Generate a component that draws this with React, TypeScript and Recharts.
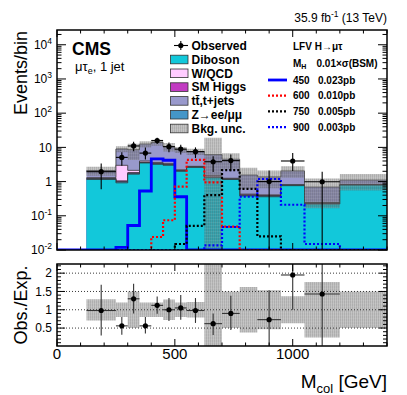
import React from 'react';
import { ComposedChart, Area, Line, Scatter, XAxis, YAxis, ErrorBar, ReferenceLine } from 'recharts';

const FONT = '"Liberation Sans", Arial, Helvetica, sans-serif';

// M_col bin edges (GeV) of the background histograms
const binEdges = [125, 250, 300, 350, 400, 450, 500, 550, 625, 700, 775, 850, 950, 1050, 1200, 1400];

// stacked backgrounds, events / bin
const diboson = [1.15, 0.92, 1.65, 3.5, 3.2, 3.0, 2.0, 2.6, 1.3, 1.15, 0.38, 0.36, 0.76, 0.22, 0.79];
const zll = [0.08, 0.08, 0.1, 0.1, 0.1, 0.08, 0.06, 0.05, 0.04, 0.03, 0.02, 0.02, 0.02, 0.01, 0.01];
const smHiggs = [0.02, 0.05, 0.08, 0.1, 0.1, 0.08, 0.05, 0.04, 0.03, 0.02, 0.01, 0.01, 0.01, 0.005, 0.005];
const wQcd = [0.05, 1.94, 0.3, 0.3, 0.2, 0.2, 0.1, 0.1, 0.15, 0.05, 0.02, 0.02, 0.02, 0.01, 0.01];
const ttbar = [0.8, 6.0, 6.4, 8.5, 10.4, 7.1, 6.3, 4.8, 4.6, 3.25, 1.13, 0.96, 1.24, 0.45, 0.29];
const bkgRelUnc = [0.29, 0.2, 0.5, 0.2, 0.2, 0.28, 0.2, 0.21, 2.1, 0.5, 0.62, 0.53, 0.37, 0.76, 0.5];

// data
const observed = [1.95, 5.1, 11, 6.8, 15.8, 10.5, 8.9, 7.5, 3.8, 4.1, null, 1.0, 4.0, 0.99, null];
const observedLow = [0.6, 2.9, 7.7, 4.4, 12.5, 7.2, 6.2, 4.9, 1.9, 2.0, null, 0.01, 2.05, 0.01, null];
const observedHigh = [3.4, 7.2, 14.5, 10, 19, 13.9, 11.9, 10, 5.5, 6.2, null, 2.1, 6.9, 1.95, null];

// obs / exp
const ratio = [0.98, 0.56, 1.3, 0.56, 1.12, 1.0, 1.05, 0.98, 0.62, 0.9, null, 0.73, 1.95, 1.43, null];
const ratioLow = [0.3, 0.32, 0.9, 0.35, 0.89, 0.69, 0.73, 0.64, 0.31, 0.45, null, 0.02, 1.0, 0.02, null];
const ratioHigh = [1.68, 0.8, 1.71, 0.8, 1.36, 1.32, 1.4, 1.32, 0.9, 1.38, null, 1.53, 2.25, 2.25, null];

// LFV H->mu tau signals, bins start at 0 GeV
const sigEdges = [0, 125, 250, 300, 350, 400, 450, 500, 550, 625, 700, 775, 850, 950, 1050, 1200, 1400];
const sig450 = [0.01, 0.01, 0.012, 0.052, 0.53, 4.6, 4.2, 0.36, 0.01, 0.01, 0.01, 0.01, 0.01, 0.01, 0.01, 0.01];
const sig600 = [0.01, 0.01, 0.01, 0.01, 0.01, 0.024, 0.074, 0.71, 4.3, 0.95, 0.048, 0.01, 0.01, 0.01, 0.01, 0.01];
const sig750 = [0.01, 0.01, 0.01, 0.01, 0.01, 0.01, 0.01, 0.015, 0.051, 0.4, 2.15, 0.61, 0.025, 0.01, 0.01, 0.01];
const sig900 = [0.01, 0.01, 0.01, 0.01, 0.01, 0.01, 0.01, 0.01, 0.01, 0.0136, 0.047, 0.36, 1.19, 0.21, 0.015, 0.01];

const C_DIBOSON = '#12c8da';
const C_WQCD = '#ffccff';
const C_HIGGS = '#c23bc2';
const C_TT = '#9999cc';
const C_ZLL = '#4496c8';

const PLOT_W = 330;
const MAIN_H = 220;
const RATIO_H = 82;
const Y_MIN = 0.01;
const Y_MAX = 27000;
const R_MIN = 0.01;
const R_MAX = 2.25;

const stepRows = (edges: number[], vals: number[]) =>
  edges.map((x, i) => ({ x, v: vals[Math.min(i, vals.length - 1)] }));

const sumArr = (...arrs: number[][]) => arrs[0].map((_, i) => arrs.reduce((s, a) => s + a[i], 0));

const cum1 = sumArr(diboson);
const cum2 = sumArr(diboson, zll);
const cum3 = sumArr(diboson, zll, smHiggs);
const cum4 = sumArr(diboson, zll, smHiggs, wQcd);
const total = sumArr(diboson, zll, smHiggs, wQcd, ttbar);

const bandRows = binEdges.map((x, i) => {
  const k = Math.min(i, total.length - 1);
  return { x, band: [Math.max(total[k] * (1 - bkgRelUnc[k]), Y_MIN), total[k] * (1 + bkgRelUnc[k])] };
});
const ratioBandRows = binEdges.map((x, i) => {
  const k = Math.min(i, total.length - 1);
  return { x, band: [Math.max(1 - bkgRelUnc[k], R_MIN), Math.min(1 + bkgRelUnc[k], R_MAX)] };
});

const pointRows = (vals: (number | null)[], lo: (number | null)[], hi: (number | null)[]) =>
  vals
    .map((v, i) => ({ v, i }))
    .filter((d) => d.v !== null)
    .map(({ v, i }) => ({
      x: (binEdges[i] + binEdges[i + 1]) / 2,
      y: v as number,
      ex: (binEdges[i + 1] - binEdges[i]) / 2,
      ey: [(v as number) - (lo[i] as number), (hi[i] as number) - (v as number)],
    }));

const obsPoints = pointRows(observed, observedLow, observedHigh);
const ratioPoints = pointRows(ratio, ratioLow, ratioHigh);

const logTicks: number[] = [];
for (let e = -2; e <= 4; e++) {
  for (let m = 1; m <= 9; m++) {
    const v = Number((m * Math.pow(10, e)).toPrecision(3));
    if (v <= Y_MAX) logTicks.push(v);
  }
}
const xTicks = Array.from({ length: 15 }, (_, i) => i * 100);
const ratioTicks = Array.from({ length: 22 }, (_, i) => Math.round((i + 1) * 10) / 100);

const MainYTick = (props: any) => {
  const { x, y, payload } = props;
  const v = payload.value;
  const e = Math.round(Math.log10(v));
  const major = Math.abs(v / Math.pow(10, e) - 1) < 1e-6;
  const len = major ? 9 : 4.5;
  return (
    <g>
      <line x1={x} x2={x + len} y1={y} y2={y} stroke="#000" />
      <line x1={x + PLOT_W} x2={x + PLOT_W - len} y1={y} y2={y} stroke="#000" />
      {major && (
        <text x={x - 5} y={y + 4.3} textAnchor="end" fontSize={12} fontFamily={FONT} fill="#000">
          {e === 0 ? '1' : '10'}
          {e !== 0 && e !== 1 && (
            <tspan dy={-5} fontSize={8.5}>
              {e}
            </tspan>
          )}
        </text>
      )}
    </g>
  );
};

const makeXTick = (plotH: number, labels: boolean) => (props: any) => {
  const { x, y, payload } = props;
  const major = payload.value % 500 === 0;
  const len = major ? 7 : 3.5;
  return (
    <g>
      <line x1={x} x2={x} y1={y} y2={y - len} stroke="#000" />
      <line x1={x} x2={x} y1={y - plotH} y2={y - plotH + len} stroke="#000" />
      {labels && major && (
        <text x={x} y={y + 12.5} textAnchor="middle" fontSize={15} fontFamily={FONT} fill="#000">
          {payload.value}
        </text>
      )}
    </g>
  );
};
const MainXTick = makeXTick(MAIN_H, false);
const RatioXTick = makeXTick(RATIO_H, true);

const RatioYTick = (props: any) => {
  const { x, y, payload } = props;
  const v = payload.value;
  const major = Math.abs(v * 2 - Math.round(v * 2)) < 1e-6;
  const len = major ? 8 : 4;
  return (
    <g>
      <line x1={x} x2={x + len} y1={y} y2={y} stroke="#000" />
      <line x1={x + PLOT_W} x2={x + PLOT_W - len} y1={y} y2={y} stroke="#000" />
      {major && (
        <text x={x - 5} y={y + 4.3} textAnchor="end" fontSize={12} fontFamily={FONT} fill="#000">
          {v}
        </text>
      )}
    </g>
  );
};

const dot = (p: any) => <circle cx={p.cx} cy={p.cy} r={2.6} fill="#000" />;

const stackLayer = (rows: any[], fill: string) => (
  <Area
    data={rows}
    dataKey="v"
    type="stepAfter"
    baseValue={Y_MIN}
    fill={fill}
    fillOpacity={1}
    stroke="#333"
    strokeWidth={0.8}
    isAnimationActive={false}
  />
);

const sigLine = (vals: number[], color: string, dash?: string) => (
  <Line
    data={stepRows(sigEdges, vals)}
    dataKey="v"
    type="stepAfter"
    stroke={color}
    strokeWidth={dash ? 2.2 : 2.8}
    strokeDasharray={dash}
    dot={false}
    isAnimationActive={false}
  />
);

const legendRows = [
  { name: 'Diboson', fill: C_DIBOSON },
  { name: 'W/QCD', fill: C_WQCD },
  { name: 'SM Higgs', fill: C_HIGGS },
  { name: 'tt\u0304,t+jets', fill: C_TT },
  { name: 'Z\u2192ee/\u03bc\u03bc', fill: C_ZLL },
  { name: 'Bkg. unc.', fill: 'url(#hatch)' },
];
const signalLegend = [
  { mass: '450', xs: '0.023pb', color: '#0000ff', dash: undefined },
  { mass: '600', xs: '0.010pb', color: '#ff0000', dash: '2 2' },
  { mass: '750', xs: '0.005pb', color: '#000000', dash: '2 2' },
  { mass: '900', xs: '0.003pb', color: '#0000ff', dash: '2 2' },
];

export default function App() {
  const abs: React.CSSProperties = { position: 'absolute', left: 0, top: 0 };
  return (
    <div style={{ position: 'absolute', left: 0, top: 0, width: 407, height: 395, background: '#fff' }}>
      <svg width={0} height={0} style={{ position: 'absolute' }}>
        <defs>
          <pattern id="hatch" width={2} height={3} patternUnits="userSpaceOnUse">
            <rect width={2} height={3} fill="rgba(110,110,110,0.42)" />
            <rect width={1} height={3} fill="rgba(70,70,70,0.16)" />
            <rect width={2} height={1} fill="rgba(255,255,255,0.08)" />
          </pattern>
        </defs>
      </svg>

      <div style={abs}>
        <ComposedChart width={407} height={395} margin={{ top: 30, right: 20, bottom: 144, left: 0 }}>
          {stackLayer(stepRows(binEdges, total), C_TT)}
          {stackLayer(stepRows(binEdges, cum4), C_WQCD)}
          {stackLayer(stepRows(binEdges, cum3), C_HIGGS)}
          {stackLayer(stepRows(binEdges, cum2), C_ZLL)}
          {stackLayer(stepRows(binEdges, cum1), C_DIBOSON)}
          <Area
            data={bandRows}
            dataKey="band"
            type="stepAfter"
            fill="url(#hatch)"
            fillOpacity={1}
            stroke="none"
            isAnimationActive={false}
          />
          {sigLine(sig450, '#0000ff')}
          {sigLine(sig600, '#ff0000', '2 2')}
          {sigLine(sig750, '#000000', '2 2')}
          {sigLine(sig900, '#0000ff', '2 2')}
          <Scatter data={obsPoints} dataKey="y" shape={dot} isAnimationActive={false}>
            <ErrorBar dataKey="ey" direction="y" width={0} stroke="#000" strokeWidth={1.1} />
            <ErrorBar dataKey="ex" direction="x" width={0} stroke="#000" strokeWidth={1.1} />
          </Scatter>
          <XAxis
            dataKey="x"
            type="number"
            domain={[0, 1400]}
            allowDataOverflow
            ticks={xTicks}
            interval={0}
            height={1}
            tickSize={0}
            tickMargin={0}
            axisLine={false}
            tickLine={false}
            tick={MainXTick}
          />
          <YAxis
            type="number"
            scale="log"
            domain={[Y_MIN, Y_MAX]}
            allowDataOverflow
            ticks={logTicks}
            interval={0}
            width={57}
            tickSize={0}
            tickMargin={0}
            axisLine={false}
            tickLine={false}
            tick={MainYTick}
          />
        </ComposedChart>
      </div>

      <div style={abs}>
        <ComposedChart width={407} height={395} margin={{ top: 264, right: 20, bottom: 48, left: 0 }}>
          {[0.5, 1, 1.5, 2].map((g) => (
            <ReferenceLine key={g} y={g} stroke="#222" strokeDasharray="1 2" strokeWidth={0.9} />
          ))}
          <Area
            data={ratioBandRows}
            dataKey="band"
            type="stepAfter"
            fill="url(#hatch)"
            fillOpacity={1}
            stroke="none"
            isAnimationActive={false}
          />
          <Scatter data={ratioPoints} dataKey="y" shape={dot} isAnimationActive={false}>
            <ErrorBar dataKey="ey" direction="y" width={0} stroke="#333" strokeWidth={1.1} />
            <ErrorBar dataKey="ex" direction="x" width={0} stroke="#333" strokeWidth={1.1} />
          </Scatter>
          <XAxis
            dataKey="x"
            type="number"
            domain={[0, 1400]}
            allowDataOverflow
            ticks={xTicks}
            interval={0}
            height={1}
            tickSize={0}
            tickMargin={0}
            axisLine={false}
            tickLine={false}
            tick={RatioXTick}
          />
          <YAxis
            type="number"
            domain={[R_MIN, R_MAX]}
            allowDataOverflow
            ticks={ratioTicks}
            interval={0}
            width={57}
            tickSize={0}
            tickMargin={0}
            axisLine={false}
            tickLine={false}
            tick={RatioYTick}
          />
        </ComposedChart>
      </div>

      <svg width={407} height={395} style={{ ...abs, pointerEvents: 'none' }} fontFamily={FONT}>
        <rect x={57} y={30} width={PLOT_W} height={MAIN_H} fill="none" stroke="#000" strokeWidth={1.5} />
        <rect x={57} y={264} width={PLOT_W} height={RATIO_H} fill="none" stroke="#000" strokeWidth={1.5} />

        <text x={387} y={22} textAnchor="end" fontSize={12}>
          35.9 fb<tspan dy={-5} fontSize={8.5}>-1</tspan>
          <tspan dy={5}> (13 TeV)</tspan>
        </text>
        <text x={72} y={55} fontSize={17.5} fontWeight="bold">
          CMS
        </text>
        <text x={75} y={70.5} fontSize={13}>
          μτ<tspan dy={3} fontSize={9}>e</tspan>
          <tspan dy={-3}>, 1 jet</tspan>
        </text>

        <text transform="translate(27,31) rotate(-90)" textAnchor="end" fontSize={18}>
          Events/bin
        </text>
        <text transform="translate(27,305) rotate(-90)" textAnchor="middle" fontSize={18}>
          Obs./Exp.
        </text>
        <text x={387} y={388} textAnchor="end" fontSize={19}>
          M<tspan dy={5} fontSize={13}>col</tspan>
          <tspan dy={-5}> [GeV]</tspan>
        </text>

        <line x1={174} x2={188} y1={45.5} y2={45.5} stroke="#000" strokeWidth={1.1} />
        <line x1={180.8} x2={180.8} y1={41} y2={50} stroke="#000" strokeWidth={1.1} />
        <circle cx={180.8} cy={45.5} r={2.6} fill="#000" />
        <text x={191.5} y={49.8} fontSize={12} fontWeight="bold">
          Observed
        </text>
        {legendRows.map((r, i) => {
          const cy = 59.5 + i * 13.8;
          return (
            <g key={r.name}>
              <rect x={170.5} y={cy - 4.3} width={17.5} height={8.6} fill={r.fill} stroke="#333" strokeWidth={0.8} />
              <text x={191.5} y={cy + 4.3} fontSize={12} fontWeight="bold">
                {r.name}
              </text>
            </g>
          );
        })}

        <text x={293} y={50} fontSize={10} fontWeight="bold">
          LFV H→μτ
        </text>
        <text x={293} y={66.5} fontSize={10} fontWeight="bold">
          M<tspan dy={2.5} fontSize={7}>H</tspan>
        </text>
        <text x={316.5} y={66.5} fontSize={10} fontWeight="bold">
          0.01×σ(BSM)
        </text>
        {signalLegend.map((s, i) => {
          const cy = 80 + i * 15.7;
          return (
            <g key={s.mass}>
              <line
                x1={268}
                x2={287}
                y1={cy}
                y2={cy}
                stroke={s.color}
                strokeWidth={s.dash ? 2.2 : 2.8}
                strokeDasharray={s.dash}
              />
              <text x={293} y={cy + 3.6} fontSize={10} fontWeight="bold">
                {s.mass}
              </text>
              <text x={318} y={cy + 3.6} fontSize={10} fontWeight="bold">
                {s.xs}
              </text>
            </g>
          );
        })}
      </svg>
    </div>
  );
}
